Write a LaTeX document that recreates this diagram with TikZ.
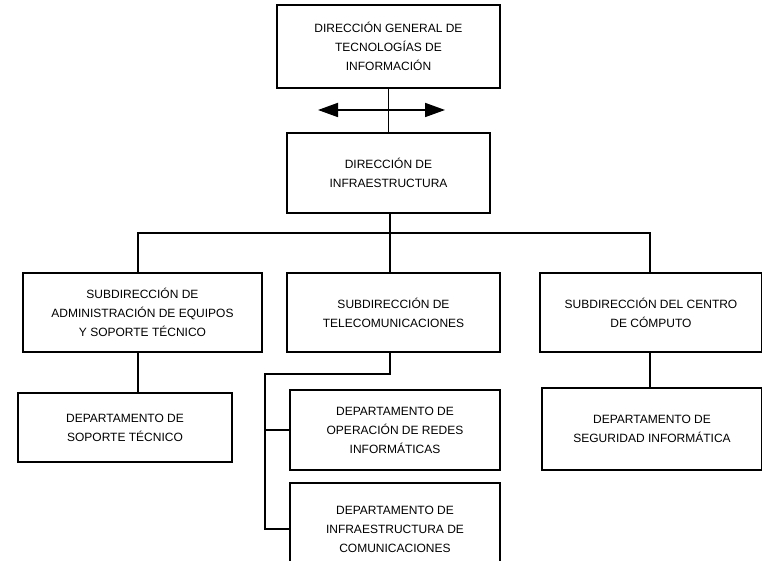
\documentclass[tikz,border=0pt]{standalone}
\usepackage{fontspec}
\setmainfont{Liberation Sans}
\usetikzlibrary{arrows.meta}
\tikzset{
  orgbox/.style={draw=drawColor,line width=1.4pt,fill=fillColor,align=center,inner sep=0pt,
    font=\fontsize{12}{19}\selectfont},
  orgline/.style={draw=drawColor,line width=1.4pt}
}
\begin{document}
\begin{tikzpicture}[x=1pt,y=1pt]
\definecolor{fillColor}{RGB}{255,255,255}
\definecolor{drawColor}{RGB}{0,0,0}
\path[use as bounding box,fill=fillColor] (0,0) rectangle (762,561);
\begin{scope}
\path[clip] (0,0) rectangle (762,561);

% direcciones
\node[orgbox,minimum width=223pt,minimum height=83pt] (dgti) at (388.5,514.5) {DIRECCIÓN GENERAL DE\\TECNOLOGÍAS DE\\INFORMACIÓN};
\node[orgbox,minimum width=203pt,minimum height=80pt] (dinf) at (388.5,388) {DIRECCIÓN DE\\INFRAESTRUCTURA};

% subdirecciones
\node[orgbox,minimum width=239pt,minimum height=79pt] (sadm) at (142.5,248.5) {SUBDIRECCIÓN DE\\ADMINISTRACIÓN DE EQUIPOS\\Y SOPORTE TÉCNICO};
\node[orgbox,minimum width=213pt,minimum height=79pt] (stel) at (393.5,248.5) {SUBDIRECCIÓN DE\\TELECOMUNICACIONES};
\node[orgbox,minimum width=222pt,minimum height=79pt] (scc) at (651,248.5) {SUBDIRECCIÓN DEL CENTRO\\DE CÓMPUTO};

% departamentos
\node[orgbox,minimum width=214pt,minimum height=69pt] (dsop) at (125,133.5) {DEPARTAMENTO DE\\SOPORTE TÉCNICO};
\node[orgbox,minimum width=210pt,minimum height=80pt] (dred) at (395,131) {DEPARTAMENTO DE\\OPERACIÓN DE REDES\\INFORMÁTICAS};
\node[orgbox,minimum width=210pt,minimum height=92pt] (dinc) at (395,32) {DEPARTAMENTO DE\\INFRAESTRUCTURA DE\\COMUNICACIONES};
\node[orgbox,minimum width=220pt,minimum height=82pt] (dseg) at (652,132) {DEPARTAMENTO DE\\SEGURIDAD INFORMÁTICA};

\coordinate (arrL) at (318,451);
\coordinate (arrR) at (445,451);
\coordinate (barL) at (138,328);
\coordinate (barR) at (650,328);
\coordinate (telx) at (390,187);
\coordinate (tk) at (265,187);

\path[orgline] (dgti.south) -- (dinf.north);
\path[orgline,line width=1.8pt,{Triangle[length=20pt,width=14pt]}-{Triangle[length=20pt,width=14pt]}] (arrL) -- (arrR);

\path[orgline] (dinf.south -| telx) -- (stel.north -| telx);
\path[orgline] (sadm.north -| barL) -- (barL) -- (barR) -- (scc.north -| barR);
\path[orgline] (sadm.south -| barL) -- (dsop.north -| barL);
\path[orgline] (scc.south -| barR) -- (dseg.north -| barR);

\path[orgline] (stel.south -| telx) -- (telx) -- (tk) |- (dinc.west);
\path[orgline] (tk |- dred.west) -- (dred.west);
\end{scope}
\end{tikzpicture}
\end{document}
